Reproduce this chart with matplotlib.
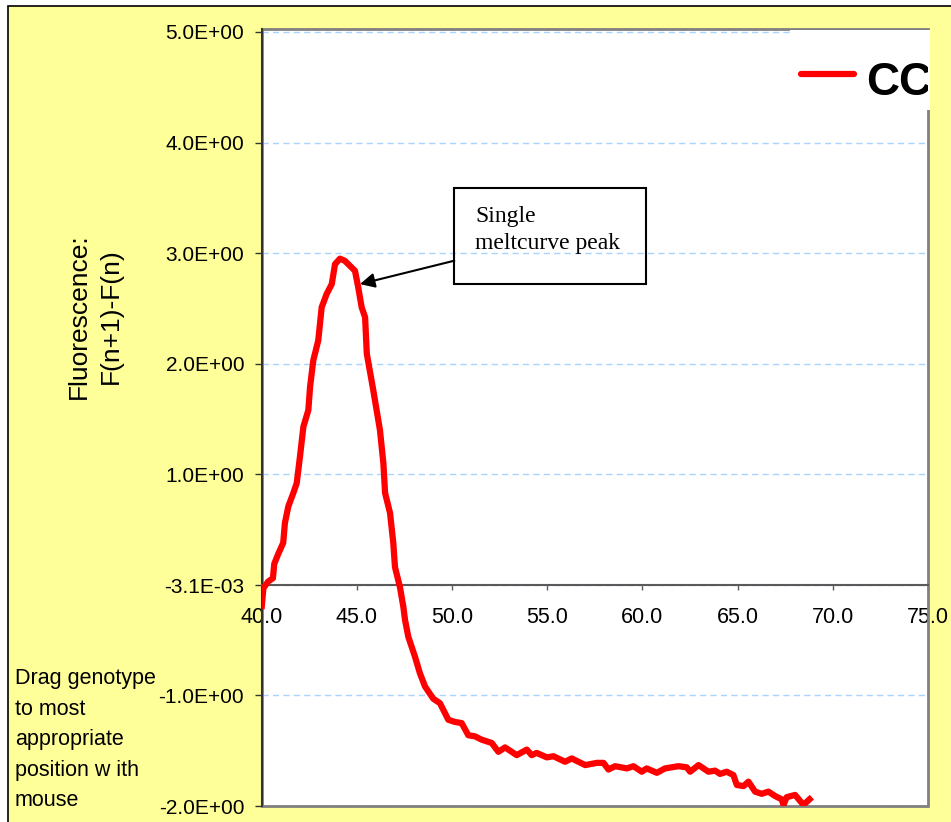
import matplotlib
matplotlib.use('Agg')
import matplotlib.pyplot as plt
from matplotlib.patches import Rectangle
from matplotlib.lines import Line2D

# ---------------- data ----------------
temperature = [40.0, 40.1, 40.35, 40.6, 40.67, 40.88, 41.14, 41.23, 41.41, 41.67,
               41.85, 42.02, 42.2, 42.46, 42.55, 42.72, 42.98, 43.16, 43.42, 43.69,
               43.86, 44.12, 44.38, 44.91, 45.08, 45.26, 45.44, 45.53, 45.87, 46.22,
               46.4, 46.49, 46.75, 46.92, 47.01, 47.27, 47.45, 47.54, 47.71, 48.06,
               48.32, 48.59, 49.02, 49.37, 49.81, 50.16, 50.51, 50.86, 51.21, 51.56,
               52.09, 52.44, 52.79, 53.4, 53.93, 54.19, 54.45, 54.98, 55.33, 55.94,
               56.29, 57.0, 57.61, 57.96, 58.22, 58.57, 59.19, 59.53, 59.97, 60.23,
               60.76, 61.19, 61.89, 62.33, 62.51, 62.95, 63.47, 63.82, 64.08, 64.43,
               64.78, 64.96, 65.31, 65.57, 65.92, 66.27, 66.62, 66.97, 67.32, 67.41,
               67.58, 68.02, 68.46, 68.9]
fluorescence = [-0.22, -0.03, 0.03, 0.06, 0.19, 0.28, 0.38, 0.56, 0.71, 0.83,
                0.92, 1.16, 1.43, 1.58, 1.79, 2.03, 2.21, 2.51, 2.63, 2.72,
                2.90, 2.95, 2.93, 2.84, 2.69, 2.51, 2.42, 2.09, 1.76, 1.40,
                1.10, 0.83, 0.65, 0.38, 0.16, -0.02, -0.20, -0.32, -0.47, -0.65,
                -0.80, -0.92, -1.03, -1.07, -1.22, -1.24, -1.25, -1.36, -1.37, -1.40,
                -1.43, -1.51, -1.47, -1.54, -1.49, -1.54, -1.52, -1.56, -1.55, -1.60,
                -1.57, -1.63, -1.61, -1.61, -1.67, -1.64, -1.66, -1.64, -1.69, -1.66,
                -1.70, -1.66, -1.64, -1.65, -1.69, -1.63, -1.69, -1.68, -1.71, -1.69,
                -1.72, -1.81, -1.82, -1.78, -1.87, -1.89, -1.87, -1.91, -1.94, -1.99,
                -1.92, -1.90, -1.99, -1.92]

x_ticks = [40, 45, 50, 55, 60, 65, 70, 75]
x_tick_labels = ['40.0', '45.0', '50.0', '55.0', '60.0', '65.0', '70.0', '75.0']
y_ticks = [5.0, 4.0, 3.0, 2.0, 1.0, -0.0031, -1.0, -2.0]
y_tick_labels = ['5.0E+00', '4.0E+00', '3.0E+00', '2.0E+00', '1.0E+00',
                 '-3.1E-03', '-1.0E+00', '-2.0E+00']
x_axis_cross = -0.0031
series_name = 'CC'
y_label = 'Fluorescence:\nF(n+1)-F(n)'
note_text = 'Single\nmeltcurve peak'
note_target = (45.17, 2.72)
hint_text = 'Drag genotype\nto most\nappropriate\nposition w ith\nmouse'

# ---------------- figure ----------------
W, H = 951, 822
SANS = ['Liberation Sans', 'DejaVu Sans']
SERIF = ['Liberation Serif', 'DejaVu Serif']
plt.rcParams['font.family'] = SANS

fig = plt.figure(figsize=(W / 100, H / 100), dpi=100, facecolor='white')


def fx(px):
    return px / W


def fy(py):
    return 1 - py / H


# yellow chart area with black border
fig.add_artist(Rectangle((fx(8), fy(H + 20)), fx(W + 20) - fx(8), fy(6) - fy(H + 20),
                         transform=fig.transFigure, facecolor='#FFFF99',
                         edgecolor='black', lw=1.2, zorder=-1))

ax = fig.add_axes([fx(261.5), fy(806), fx(928) - fx(261.5), fy(29) - fy(806)])
ax.set_facecolor('white')
ax.set_xlim(40, 75)
ax.set_ylim(-2.0, 5.027)

ax.set_xticks(x_ticks)
ax.set_xticklabels(x_tick_labels)
ax.set_yticks(y_ticks)
ax.set_yticklabels(y_tick_labels)

ax.yaxis.grid(True, color='#A8D4FF', linestyle=(0, (4.5, 3)), lw=1)
ax.set_axisbelow(True)

ax.plot(temperature, fluorescence, color='#FF0000', lw=4.5,
        solid_joinstyle='round', solid_capstyle='butt', zorder=3)

# plot frame (gray) for top/right/bottom
ax.add_patch(Rectangle((0, 0), 1, 1, transform=ax.transAxes, fill=False,
                       edgecolor='#808080', lw=2, clip_on=False, zorder=2.4))
ax.spines['top'].set_visible(False)
ax.spines['right'].set_visible(False)
ax.spines['bottom'].set_position(('data', x_axis_cross))
ax.spines['bottom'].set_color('#5A5A5A')
ax.spines['bottom'].set_linewidth(1.5)
ax.spines['left'].set_color('#333333')
ax.spines['left'].set_linewidth(1.5)

ax.tick_params(axis='x', direction='out', length=3.5, width=1, color='#5A5A5A',
               pad=12, labelsize=15.5, labelcolor='black')
ax.tick_params(axis='y', direction='out', length=5, width=1, color='#333333',
               pad=7.5, labelsize=15, labelcolor='black')

# legend (white box over the top-right, clipped by the plot area)
ax.add_patch(Rectangle((fx(790), fy(110)), fx(929.5) - fx(790), fy(30.5) - fy(110),
                       transform=fig.transFigure, facecolor='white', edgecolor='none',
                       clip_on=False, zorder=4))
ax.add_line(Line2D([fx(801), fx(854)], [fy(74), fy(74)], transform=fig.transFigure,
                   color='#FF0000', lw=4.5, solid_capstyle='round', clip_on=False, zorder=5))
ax.text(fx(866), fy(95), series_name, transform=fig.transFigure, fontsize=33,
        fontweight='bold', ha='left', va='baseline', clip_on=True, zorder=5)

# annotation box + arrow
ax.add_patch(Rectangle((fx(454.3), fy(284)), fx(646) - fx(454.3), fy(188.3) - fy(284),
                       transform=fig.transFigure, fill=False, edgecolor='black',
                       lw=1.5, clip_on=False, zorder=4))
ax.text(fx(475), fy(206), note_text, transform=fig.transFigure, family=SERIF,
        fontsize=17, ha='left', va='top', linespacing=1.35, zorder=5)
ax.annotate('', xy=note_target, xycoords='data',
            xytext=(fx(454.3), fy(260.7)), textcoords='figure fraction',
            arrowprops=dict(arrowstyle='-|>', color='black', lw=1.5,
                            mutation_scale=22, shrinkA=0, shrinkB=0), zorder=5)

# axis title and hint text
fig.text(fx(95), fy(316), y_label, rotation=90, ha='center', va='center',
         fontsize=19, linespacing=1.4, multialignment='center')
fig.text(fx(15), fy(668), hint_text, ha='left', va='top', fontsize=15.5, linespacing=1.6)

fig.savefig('out.png', dpi=100, facecolor='white')
